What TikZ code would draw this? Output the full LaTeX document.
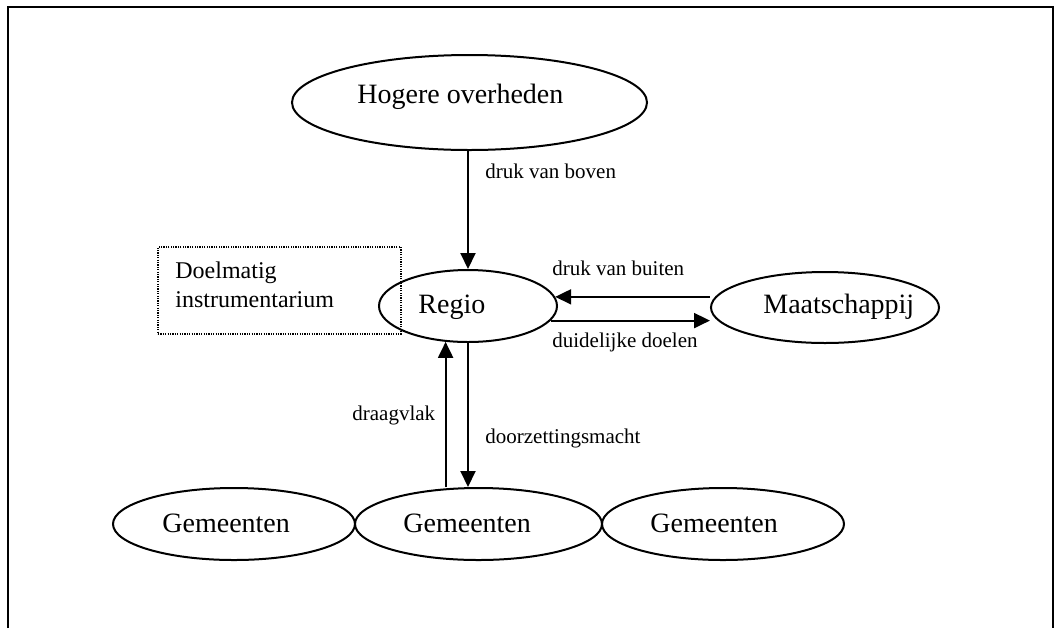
\documentclass[tikz,border=0pt]{standalone}
\usepackage{fontspec}
\setmainfont{Liberation Serif}
\usetikzlibrary{shapes.geometric,arrows.meta}
\begin{document}
\begin{tikzpicture}[x=0.5pt,y=-0.5pt,
  ell/.style={draw, ellipse, line width=1pt, inner sep=0pt},
  big/.style={font=\fontsize{14}{17}\selectfont, anchor=base west, inner sep=0pt},
  mid/.style={font=\fontsize{12}{14.5}\selectfont, anchor=base west, inner sep=0pt},
  small/.style={font=\fontsize{10.5}{13}\selectfont, anchor=base west, inner sep=0pt},
  arr/.style={line width=1pt, -{Triangle[length=8pt,width=7.5pt]}}
]
\useasboundingbox (0,0) rectangle (1056,628);
\coordinate (fa) at (8,628);
\coordinate (fb) at (8,7);
\coordinate (fc) at (1053,7);
\coordinate (fd) at (1053,628);
\draw[line width=1pt] (fa) -- (fb) -- (fc) -- (fd);

% ellipses
\node[ell, minimum width=177.5pt, minimum height=47.5pt] (hog) at (469.5,102.5) {};
\node[ell, minimum width=89pt, minimum height=36pt] (reg) at (468,306) {};
\node[ell, minimum width=114pt, minimum height=35.5pt] (maat) at (825,307.5) {};
\node[ell, minimum width=121pt, minimum height=36pt] (gl) at (234,524) {};
\node[ell, minimum width=123.5pt, minimum height=36pt] (gm) at (478.5,524) {};
\node[ell, minimum width=121pt, minimum height=36pt] (gr) at (723,524) {};

% ellipse texts
\node[big] (thog) at (357,103) {Hogere overheden};
\node[big] (treg) at (418,313) {Regio};
\node[big] (tmaat) at (763,313) {Maatschappij};
\node[big] (tgl) at (162,532) {Gemeenten};
\node[big] (tgm) at (403,532) {Gemeenten};
\node[big] (tgr) at (650,532) {Gemeenten};

% dotted box
\node[draw, line width=0.6pt, dash pattern=on 0.6pt off 0.6pt, minimum width=121.5pt, minimum height=43.5pt, inner sep=0pt] (box) at (279.5,290.5) {};
\node[mid] (box1) at (175,278) {Doelmatig};
\node[mid] (box2) at (175,307) {instrumentarium};

% arrows
\draw[arr] (reg.north |- hog.south) -- (reg.north);
\draw[arr] (reg.6 -| maat.west) -- (reg.6);
\draw[arr] (reg.-10) -- (reg.-10 -| maat.west);
\draw[arr] (reg.238 |- gm.north) -- (reg.238);
\draw[arr] (reg.south) -- (reg.south |- gm.north);

% labels
\node[small] (l1) at (485,178) {druk van boven};
\node[small] (l2) at (552,275) {druk van buiten};
\node[small] (l3) at (552,347) {duidelijke doelen};
\node[small] (l4) at (352,420) {draagvlak};
\node[small] (l5) at (485,443) {doorzettingsmacht};
\end{tikzpicture}
\end{document}
